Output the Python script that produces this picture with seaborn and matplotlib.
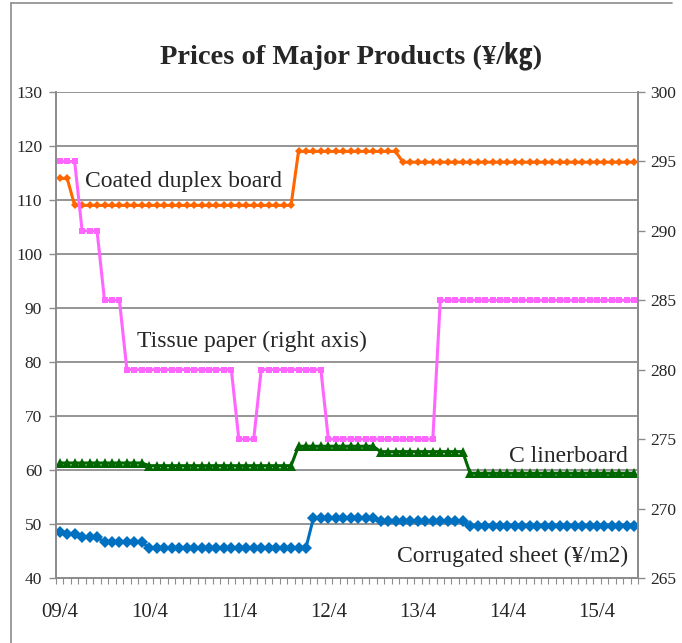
import numpy as np
import pandas as pd
import seaborn as sns
import matplotlib.pyplot as plt
from matplotlib.lines import Line2D
from matplotlib.ticker import FixedLocator

# month categories 09/4 .. 15/9, one point per month
tick_labels = ['09/4', '10/4', '11/4', '12/4', '13/4', '14/4', '15/4']

coated_duplex = [114] * 2 + [109] * 30 + [119] * 14 + [117] * 32
tissue_paper = ([295] * 3 + [290] * 3 + [285] * 3 + [280] * 15 + [275] * 3
                + [280] * 9 + [275] * 15 + [285] * 27)
c_liner = [61.3] * 12 + [60.8] * 20 + [64.4] * 11 + [63.4] * 12 + [59.4] * 23
corrugated = ([48.5, 48.1, 48.1, 47.6, 47.6, 47.6] + [46.6] * 6 + [45.6] * 22
              + [51.1] * 9 + [50.5] * 12 + [49.6] * 23)

n = len(coated_duplex)
df = pd.DataFrame({
    'm': np.arange(n),
    'coated': coated_duplex,
    'tissue': tissue_paper,
    'liner': c_liner,
    'corr': corrugated,
})

sns.set_theme(style='white')
plt.rcParams['font.family'] = ['Liberation Serif', 'Noto Sans CJK JP', 'DejaVu Sans']

fig = plt.figure(figsize=(6.82, 6.43), dpi=100)
ax = fig.add_axes([56 / 682, 65 / 643, 582 / 682, 486 / 643])
ax2 = ax.twinx()

gray = '#8c8c8c'
lw = 2.2

sns.lineplot(data=df, x='m', y='coated', ax=ax, color='#FF6600', lw=lw,
             marker='D', markersize=4.5, markeredgewidth=0, zorder=5)
sns.lineplot(data=df, x='m', y='liner', ax=ax, color='#006600', lw=lw,
             marker='^', markersize=7, markeredgewidth=0, zorder=5)
sns.lineplot(data=df, x='m', y='corr', ax=ax, color='#0070C0', lw=lw,
             marker='D', markersize=6, markeredgewidth=0, zorder=5)
sns.lineplot(data=df, x='m', y='tissue', ax=ax2, color='#FF66FF', lw=lw,
             marker='s', markersize=4.0, markeredgewidth=0, zorder=5)

ax.set_xlim(-0.5, n - 0.5)
ax.set_ylim(40, 130)
ax2.set_ylim(265, 300)
ax.set_yticks(range(40, 131, 10))
ax2.set_yticks(range(265, 301, 5))
ax.set_xticks(range(0, 12 * len(tick_labels), 12))
ax.set_xticklabels(tick_labels)
ax.xaxis.set_minor_locator(FixedLocator(np.arange(-0.5, n, 1)))
ax.set_xlabel('')
ax.set_ylabel('')
ax2.set_ylabel('')

ax.grid(axis='y', color=gray, lw=1.3)
ax.set_axisbelow(True)
for a in (ax, ax2):
    a.spines['top'].set_visible(False)
    for s in ('left', 'right', 'bottom'):
        a.spines[s].set_color(gray)
        a.spines[s].set_linewidth(1.3)
ax.tick_params(axis='y', left=True, length=5, width=1, color=gray,
               labelsize=12.5, pad=5)
ax2.tick_params(axis='y', right=True, length=5, width=1, color=gray,
                labelsize=12.5, pad=4)
ax.tick_params(axis='x', which='major', bottom=False, labelsize=15, pad=12)
ax.tick_params(axis='x', which='minor', bottom=True, length=4, width=0.8,
               color=gray)

ax.text(3.4, 113.5, 'Coated duplex board', fontsize=17, va='center')
ax.text(10.4, 83.9, 'Tissue paper (right axis)', fontsize=17, va='center')
ax.text(76.2, 62.5, 'C linerboard', fontsize=17, va='center', ha='right')
ax.text(76.2, 44.0, 'Corrugated sheet (¥/m2)', fontsize=17, va='center', ha='right')

fig.text(351 / 682, 1 - 57 / 643, 'Prices of Major Products (¥/㎏)',
         fontsize=20.5, fontweight='bold', ha='center', va='center')

# outer chart frame
fig.add_artist(Line2D([11 / 682, 11 / 682], [0, 1 - 3 / 643], color=gray, lw=1.2))
fig.add_artist(Line2D([11 / 682, 672 / 682], [1 - 3 / 643, 1 - 3 / 643], color=gray, lw=1.2))

fig.savefig('out.png', dpi=100)
